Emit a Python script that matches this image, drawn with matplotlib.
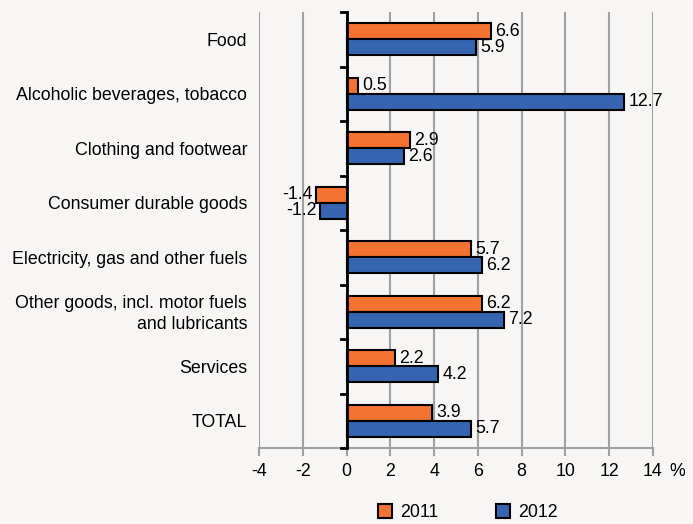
import matplotlib
matplotlib.use('Agg')
import matplotlib.pyplot as plt
import numpy as np

categories = ["Food", "Alcoholic beverages, tobacco", "Clothing and footwear",
              "Consumer durable goods", "Electricity, gas and other fuels",
              "Other goods, incl. motor fuels\nand lubricants", "Services", "TOTAL"]
values_2011 = [6.6, 0.5, 2.9, -1.4, 5.7, 6.2, 2.2, 3.9]
values_2012 = [5.9, 12.7, 2.6, -1.2, 6.2, 7.2, 4.2, 5.7]
xticks = [-4, -2, 0, 2, 4, 6, 8, 10, 12, 14]

bg = '#f7f6f4'
orange = '#f47330'
blue = '#3565b0'
fs = 12.8

plt.rcParams['font.family'] = ['Liberation Sans', 'DejaVu Sans']

fig = plt.figure(figsize=(6.93, 5.24), dpi=100, facecolor=bg)
ax = fig.add_axes([0.374, 0.145, 0.568, 0.832], facecolor=bg)

y = np.arange(len(categories))
h = 0.29
b1 = ax.barh(y - h / 2, values_2011, height=h, color=orange, edgecolor='black', linewidth=1.5, label='2011', zorder=3)
b2 = ax.barh(y + h / 2, values_2012, height=h, color=blue, edgecolor='black', linewidth=1.5, label='2012', zorder=3)

# value labels next to bar ends
for bars, vals in ((b1, values_2011), (b2, values_2012)):
    for rect, v in zip(bars, vals):
        cy = rect.get_y() + rect.get_height() / 2
        if v >= 0:
            ax.text(v + 0.2, cy, f"{v:.1f}", ha='left', va='center', fontsize=fs)
        else:
            ax.text(v - 0.15, cy, f"{v:.1f}", ha='right', va='center', fontsize=fs)

ax.set_xlim(-4, 14)
ax.set_ylim(len(categories) - 0.5, -0.5)
ax.set_xticks(xticks)
ax.set_xticklabels([str(t) for t in xticks], fontsize=fs)
ax.grid(axis='x', color='#a0a0a0', linewidth=1.5, zorder=0)
ax.tick_params(axis='x', length=6, width=1.5, color='#a0a0a0', pad=5)

for s in ['top', 'right', 'left']:
    ax.spines[s].set_visible(False)
ax.spines['bottom'].set_color('#a0a0a0')
ax.spines['bottom'].set_linewidth(1.5)

# category axis at x = 0
ax.set_yticks([])
ax.axvline(0, color='black', linewidth=2, zorder=4)
for b in np.arange(-0.5, len(categories), 1):
    ax.plot([-0.25, 0], [b, b], color='black', linewidth=2, zorder=4, clip_on=False)
for i, c in enumerate(categories):
    ax.text(-4.55, i + 0.04, c, ha='right', va='center', fontsize=fs, linespacing=1.25)

ax.text(14.75, -0.035, '%', transform=ax.get_xaxis_transform(), ha='left', va='top', fontsize=fs)

fig.legend(handles=[b1, b2], loc='lower center', bbox_to_anchor=(0.675, -0.025), ncol=2,
           frameon=False, fontsize=fs, handlelength=0.8, handleheight=0.8,
           columnspacing=3.2, handletextpad=0.45)

fig.savefig('out.png', dpi=100, facecolor=bg)
